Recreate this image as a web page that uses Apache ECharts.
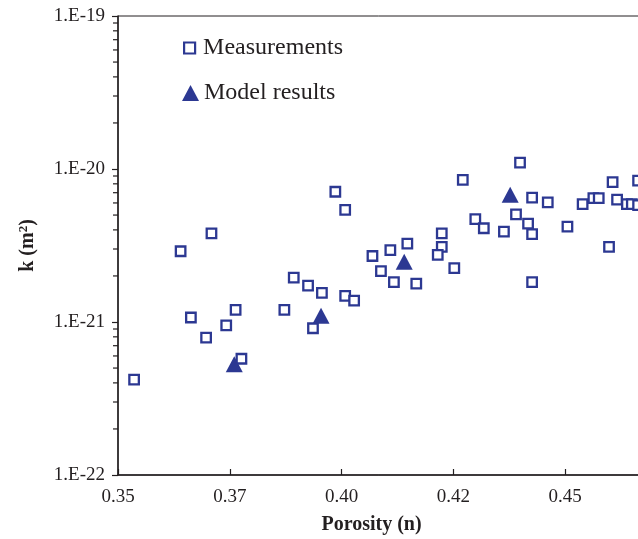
<!DOCTYPE html>
<html>
<head>
<meta charset="utf-8">
<script src="https://cdn.jsdelivr.net/npm/echarts@6/dist/echarts.min.js"></script>
<style>
  html, body { margin: 0; padding: 0; background: #fff; }
  #chart { width: 638px; height: 539px; }
</style>
</head>
<body>
<div id="chart"></div>
<script>
// Permeability k (m^2) against porosity n, k drawn on a decade (log10) scale
const measPorosity = [
  0.3536, 0.3640, 0.3663, 0.3697, 0.3709, 0.3742, 0.3763, 0.3776, 0.3872, 0.3893,
  0.3925, 0.3936, 0.3956, 0.3986, 0.4008, 0.4008, 0.4028, 0.4069, 0.4088, 0.4109,
  0.4117, 0.4147, 0.4167, 0.4224, 0.4224, 0.4215, 0.4252, 0.4271, 0.4299, 0.4318,
  0.4363, 0.4399, 0.4426, 0.4390, 0.4417, 0.4426, 0.4426, 0.4461, 0.4505, 0.4539,
  0.4563, 0.4575, 0.4606, 0.4598, 0.4616, 0.4638, 0.4649, 0.4663, 0.4663
];
const measK = [
  4.2e-22, 2.9e-21, 1.07e-21, 7.9e-22, 3.8e-21, 9.5e-22, 1.2e-21, 5.75e-22, 1.2e-21, 1.95e-21,
  1.73e-21, 9.1e-22, 1.55e-21, 7.1e-21, 5.4e-21, 1.48e-21, 1.38e-21, 2.7e-21, 2.15e-21, 2.95e-21,
  1.82e-21, 3.25e-21, 1.78e-21, 3.8e-21, 3.1e-21, 2.75e-21, 2.25e-21, 8.5e-21, 4.7e-21, 4.1e-21,
  3.9e-21, 1.1e-20, 6.5e-21, 5.05e-21, 4.4e-21, 3.75e-21, 1.82e-21, 6.05e-21, 4.2e-21, 5.9e-21,
  6.45e-21, 6.45e-21, 8.2e-21, 3.1e-21, 6.3e-21, 5.9e-21, 5.9e-21, 5.8e-21, 8.4e-21
];
const modelPorosity = [0.3760, 0.3954, 0.4140, 0.4377];
const modelK = [5.3e-22, 1.1e-21, 2.48e-21, 6.8e-21];

const xTickLabels = ['0.35', '0.37', '0.40', '0.42', '0.45', '0.47'];
const yTickLabels = ['1.E-22', '1.E-21', '1.E-20', '1.E-19'];

const decades = [1e-22, 1e-21, 1e-20];
const mantissas = [2, 3, 4, 5, 6, 7, 8, 9];

const NAVY = '#2c3892';
const INK = '#231f20';
const SERIF = '"Liberation Serif", "DejaVu Serif", serif';

const lg = v => Math.log10(v);

const minorTicks = [];
decades.forEach(d => mantissas.forEach(m => minorTicks.push([0.35, lg(m * d)])));

const chart = echarts.init(document.getElementById('chart'), null, { renderer: 'canvas' });

chart.setOption({
  animation: false,
  backgroundColor: '#fff',
  grid: {
    left: 118, width: 559, top: 16, height: 459,
    outerBoundsMode: 'none',
    containLabel: false,
    show: true, borderColor: INK, borderWidth: 1, backgroundColor: 'transparent'
  },
  legend: [
    {
      data: ['Measurements'],
      orient: 'vertical', left: 178, top: 31,
      itemWidth: 11, itemHeight: 11,
      itemStyle: { borderWidth: 2.2 },
      textStyle: { fontFamily: SERIF, fontSize: 24, color: INK, padding: [0, 0, 0, 3] }
    },
    {
      data: ['Model results'],
      orient: 'vertical', left: 177, top: 76,
      itemWidth: 17, itemHeight: 16,
      textStyle: { fontFamily: SERIF, fontSize: 24, color: INK }
    }
  ],
  xAxis: {
    type: 'value',
    min: 0.35, max: 0.475, interval: 0.025,
    splitLine: { show: false },
    axisLine: { show: true, lineStyle: { color: INK, width: 1.5 } },
    axisTick: { show: true, inside: true, length: 6, lineStyle: { color: INK, width: 1.2 } },
    axisLabel: {
      margin: 13, fontFamily: SERIF, fontSize: 19, color: INK,
      formatter: (v, i) => xTickLabels[i] || ''
    },
    name: 'Porosity (n)',
    nameLocation: 'middle',
    nameGap: 40,
    nameTextStyle: {
      fontFamily: SERIF, fontSize: 20, fontWeight: 'bold', color: INK,
      padding: [0, 52, 0, 0]
    }
  },
  yAxis: {
    type: 'value',
    min: -22, max: -19, interval: 1,
    splitLine: { show: false },
    axisLine: { show: true, lineStyle: { color: INK, width: 1.5 } },
    axisTick: { show: true, inside: false, length: 6, lineStyle: { color: INK, width: 1.2 } },
    axisLabel: {
      margin: 13, fontFamily: SERIF, fontSize: 19, color: INK,
      formatter: (v, i) => yTickLabels[i] || ''
    },
    name: '{a|k (m}{s|2}{a|)}',
    nameLocation: 'middle',
    nameRotate: 90,
    nameGap: 80,
    nameTextStyle: {
      rich: {
        a: { fontFamily: SERIF, fontSize: 20, fontWeight: 'bold', color: INK },
        s: { fontFamily: SERIF, fontSize: 13, fontWeight: 'bold', color: INK, verticalAlign: 'top', padding: [0, 0, 8, 0] }
      }
    }
  },
  series: [
    {
      name: 'minor ticks',
      type: 'custom',
      silent: true,
      clip: false,
      data: minorTicks,
      renderItem: (params, api) => {
        const p = api.coord([api.value(0), api.value(1)]);
        return {
          type: 'line',
          shape: { x1: p[0] - 5, y1: p[1], x2: p[0], y2: p[1] },
          style: { stroke: INK, lineWidth: 1.2 }
        };
      }
    },
    {
      name: 'Model results',
      type: 'scatter',
      symbol: 'triangle',
      symbolSize: [17, 16],
      itemStyle: { color: NAVY, opacity: 1 },
      data: modelPorosity.map((x, i) => [x, lg(modelK[i])]),
      z: 3
    },
    {
      name: 'Measurements',
      type: 'scatter',
      symbol: 'rect',
      symbolSize: 9.5,
      itemStyle: { color: '#fff', borderColor: NAVY, borderWidth: 2.3, opacity: 1 },
      data: measPorosity.map((x, i) => [x, lg(measK[i])]),
      z: 4
    }
  ]
});
</script>
</body>
</html>
